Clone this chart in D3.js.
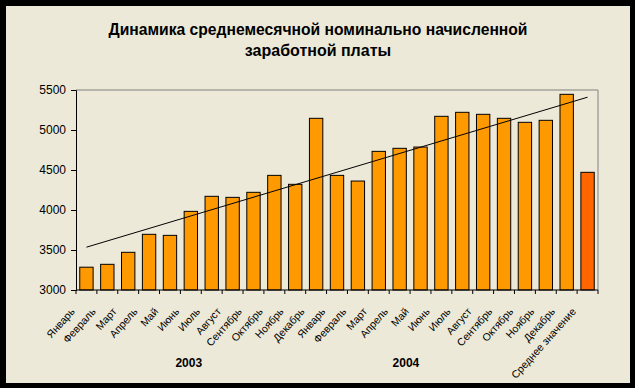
<!DOCTYPE html>
<html>
<head>
<meta charset="utf-8">
<script src="https://cdn.jsdelivr.net/npm/d3@7"></script>
<style>
  body { margin: 0; background: #000; }
  svg { display: block; font-family: "Liberation Sans", Arial, sans-serif; }
</style>
</head>
<body>
<svg width="635" height="388"></svg>
<script>
const months = ["Январь", "Февраль", "Март", "Апрель", "Май", "Июнь", "Июль",
  "Август", "Сентябрь", "Октябрь", "Ноябрь", "Декабрь"];
const years = ["2003", "2004"];
const values2003 = [3285, 3321, 3471, 3696, 3683, 3983, 4171, 4158, 4221, 4433, 4321, 5146];
const values2004 = [4433, 4362, 4733, 4771, 4787, 5171, 5221, 5196, 5146, 5096, 5121, 5446];
const avgLabel = "Среднее значение";
const avgValue = 4471;
const trendEnds = [3535, 5410]; // linear trend, first and last category
const yTicks = [3000, 3500, 4000, 4500, 5000, 5500];

const svg = d3.select("svg");

// table of all bars
const bars = [];
months.forEach((m, i) => bars.push({ label: m, value: values2003[i], avg: false }));
months.forEach((m, i) => bars.push({ label: m, value: values2004[i], avg: false }));
bars.push({ label: avgLabel, value: avgValue, avg: true });

const plotL = 76, plotR = 598, plotT = 90, plotB = 290;

svg.append("rect").attr("x", 6).attr("y", 6).attr("width", 624).attr("height", 377)
  .attr("fill", "#ECE9D8");

// title
const title = svg.append("text").attr("text-anchor", "middle")
  .attr("font-size", 16).attr("font-weight", "bold").attr("fill", "#000");
title.append("tspan").attr("x", 318).attr("y", 35)
  .attr("textLength", 419).attr("lengthAdjust", "spacingAndGlyphs")
  .text("Динамика среднемесячной номинально начисленной");
title.append("tspan").attr("x", 318).attr("y", 56).text("заработной платы");

const x = d3.scaleBand()
  .domain(d3.range(bars.length))
  .range([plotL, plotR])
  .paddingInner(0.36)
  .paddingOuter(0.18);

const y = d3.scaleLinear().domain([3000, 5500]).range([plotB, plotT]);

// frame
svg.append("path")
  .attr("d", `M${plotL},${plotT}H${plotR}V${plotB}`)
  .attr("fill", "none").attr("stroke", "#808080").attr("stroke-width", 1);

// bars
svg.append("g").selectAll("rect")
  .data(bars)
  .join("rect")
  .attr("x", (d, i) => x(i))
  .attr("y", d => y(d.value))
  .attr("width", x.bandwidth())
  .attr("height", d => y(3000) - y(d.value))
  .attr("fill", d => d.avg ? "#FF6600" : "#FF9900")
  .attr("stroke", "#000")
  .attr("stroke-width", 1);

// trend line
const cx = i => x(i) + x.bandwidth() / 2;
svg.append("line")
  .attr("x1", cx(0)).attr("y1", y(trendEnds[0]))
  .attr("x2", cx(bars.length - 1)).attr("y2", y(trendEnds[1]))
  .attr("stroke", "#000").attr("stroke-width", 1);

// y axis
const yAxis = svg.append("g")
  .attr("transform", `translate(${plotL},0)`)
  .call(d3.axisLeft(y).tickValues(yTicks).tickSize(5).tickPadding(5).tickFormat(d3.format("d")));
yAxis.select(".domain").attr("stroke", "#000");
yAxis.selectAll("text").attr("font-size", 12).attr("fill", "#000")
  .attr("font-family", "'Liberation Sans', Arial, sans-serif");

// x axis line and ticks at band boundaries
const step = x.step();
const xg = svg.append("g");
xg.append("line").attr("x1", plotL).attr("x2", plotR).attr("y1", plotB).attr("y2", plotB)
  .attr("stroke", "#000");
xg.selectAll("line.tick")
  .data(d3.range(bars.length + 1))
  .join("line")
  .attr("class", "tick")
  .attr("x1", i => plotL + i * step).attr("x2", i => plotL + i * step)
  .attr("y1", plotB).attr("y2", plotB + 4)
  .attr("stroke", "#000");

// category labels
xg.selectAll("text.cat")
  .data(bars)
  .join("text")
  .attr("class", "cat")
  .attr("text-anchor", "end")
  .attr("font-size", 10.5)
  .attr("fill", "#000")
  .attr("transform", (d, i) => `translate(${cx(i) - 11},${plotB + 22}) rotate(-48)`)
  .text(d => d.label);

// year labels
const yearPos = [5.4, 15.8];
svg.selectAll("text.year")
  .data(years)
  .join("text")
  .attr("class", "year")
  .attr("text-anchor", "middle")
  .attr("font-size", 12).attr("font-weight", "bold")
  .attr("x", (d, i) => plotL + yearPos[i] * step)
  .attr("y", 367)
  .text(d => d);

// clipped axis title
svg.append("clipPath").attr("id", "yclip")
  .append("rect").attr("x", 13).attr("y", 150).attr("width", 6).attr("height", 80);
svg.append("text")
  .attr("clip-path", "url(#yclip)")
  .attr("transform", "translate(19,197) rotate(-90)")
  .attr("text-anchor", "middle")
  .attr("font-size", 11).attr("font-weight", "bold")
  .text("рубли");
</script>
</body>
</html>
